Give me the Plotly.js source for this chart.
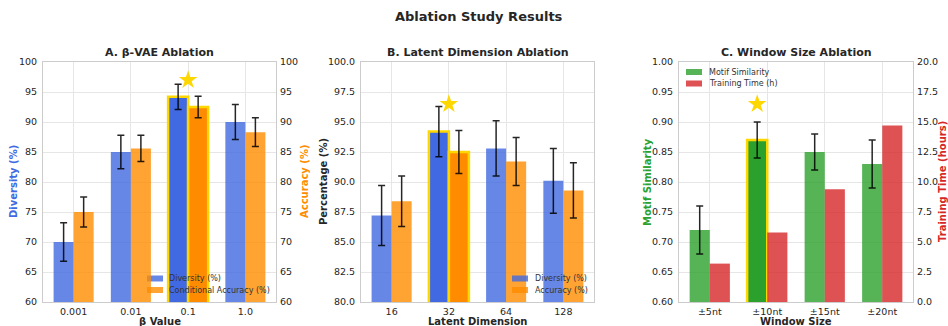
<!DOCTYPE html>
<html>
<head>
<meta charset="utf-8">
<script src="https://cdn.plot.ly/plotly-3.0.1.min.js"></script>
<style>html,body{margin:0;padding:0;background:#fff;}#chart{width:948px;height:326px;}</style>
</head>
<body>
<div id="chart"></div>
<script>
// ---------- DATA ----------
const betaCats = ['0.001', '0.01', '0.1', '1.0'];
const betaDiversity = [70.0, 85.0, 94.2, 90.0];
const betaDiversityErr = [3.2, 2.8, 2.1, 2.9];
const betaAccuracy = [75.0, 85.6, 92.5, 88.3];
const betaAccuracyErr = [2.5, 2.2, 1.8, 2.4];

const latentCats = ['16', '32', '64', '128'];
const latentDiversity = [87.2, 94.2, 92.8, 90.1];
const latentDiversityErr = [2.5, 2.1, 2.3, 2.7];
const latentAccuracy = [88.4, 92.5, 91.7, 89.3];
const latentAccuracyErr = [2.1, 1.8, 2.0, 2.3];

const windowCats = ['±5nt', '±10nt', '±15nt', '±20nt'];
const motifSimilarity = [0.72, 0.87, 0.85, 0.83];
const motifSimilarityErr = [0.04, 0.03, 0.03, 0.04];
const trainingHours = [3.2, 5.8, 9.4, 14.7];

const bestIndex = [2, 1, 1];          // highlighted group per panel
const starValue = [97.0, 96.5, 0.93]; // star marker heights per panel

const legendA = ['Diversity (%)', 'Conditional Accuracy (%)'];
const legendB = ['Diversity (%)', 'Accuracy (%)'];
const legendC = ['Motif Similarity', 'Training Time (h)'];

// ---------- STYLE ----------
const BLUE = '65,105,225', ORANGE = '255,140,0', GREEN = '44,160,44', RED = '214,39,40';
const GOLD = '#FFD700';
const W = 948, H = 326;
const FONT = 'DejaVu Sans, Arial, sans-serif';
const TXT = '#262626';
const BW = 0.35;

function idx(arr) { return arr.map((_, i) => i); }
function perBar(cats, best, a, b) { return cats.map((_, i) => i === best ? a : b); }
function err(arr) { return {type: 'data', array: arr, visible: true, color: 'rgba(0,0,0,0.85)', thickness: 1.5, width: 3.5}; }

function barTrace(cats, vals, errs, rgb, best, offset, name, xa, ya, highlight) {
  const hb = highlight ? best : -1;
  const t = {
    type: 'bar', x: idx(cats), y: vals, width: BW, offset: offset, name: name,
    xaxis: xa, yaxis: ya, showlegend: false,
    marker: {
      color: perBar(cats, hb, 'rgb(' + rgb + ')', 'rgba(' + rgb + ',0.8)'),
      line: {color: perBar(cats, hb, GOLD, 'rgba(0,0,0,0)'), width: perBar(cats, hb, 2.5, 0)}
    },
    hoverinfo: 'skip'
  };
  if (errs) t.error_y = err(errs);
  return t;
}
function star(xv, yv, xa, ya) {
  return {type: 'scatter', mode: 'markers', x: [xv], y: [yv], xaxis: xa, yaxis: ya, showlegend: false,
          marker: {symbol: 'star', size: 14, color: GOLD, line: {width: 0}}, hoverinfo: 'skip'};
}

const traces = [
  barTrace(betaCats, betaDiversity, betaDiversityErr, BLUE, bestIndex[0], -BW, legendA[0], 'x', 'y', true),
  barTrace(betaCats, betaAccuracy, betaAccuracyErr, ORANGE, bestIndex[0], 0, legendA[1], 'x', 'y2', true),
  star(bestIndex[0], starValue[0], 'x', 'y2'),

  barTrace(latentCats, latentDiversity, latentDiversityErr, BLUE, bestIndex[1], -BW, legendB[0], 'x2', 'y3', true),
  barTrace(latentCats, latentAccuracy, latentAccuracyErr, ORANGE, bestIndex[1], 0, legendB[1], 'x2', 'y3', true),
  star(bestIndex[1], starValue[1], 'x2', 'y3'),

  barTrace(windowCats, motifSimilarity, motifSimilarityErr, GREEN, bestIndex[2], -BW, legendC[0], 'x3', 'y4', true),
  barTrace(windowCats, trainingHours, null, RED, bestIndex[2], 0, legendC[1], 'x3', 'y5', false),
  star(bestIndex[2] - BW / 2, starValue[2], 'x3', 'y4')
];

// ---------- LAYOUT ----------
const plotTop = 62, plotBottom = 302;
const yDom = [1 - plotBottom / H, 1 - plotTop / H];
const xDomA = [43 / W, 276 / W], xDomB = [361 / W, 594 / W], xDomC = [679 / W, 913 / W];
const px = v => v / W, py = v => 1 - v / H;

function xAxis(dom, cats, anchor) {
  return {
    domain: dom, anchor: anchor, range: [-0.535, cats.length - 1 + 0.535],
    tickmode: 'array', tickvals: idx(cats), ticktext: cats,
    showgrid: true, gridcolor: '#e6e6e6', gridwidth: 1, zeroline: false,
    showline: true, linecolor: '#cccccc', linewidth: 1, mirror: true, ticks: '',
    ticklabelstandoff: 1,
    tickfont: {family: FONT, size: 9.5, color: TXT}
  };
}
function yAxis(range, dtick, fmt, anchor, extra) {
  return Object.assign({
    domain: yDom, anchor: anchor, range: range, dtick: dtick, tick0: range[0], tickformat: fmt,
    showgrid: true, gridcolor: '#e6e6e6', gridwidth: 1, zeroline: false,
    showline: true, linecolor: '#cccccc', linewidth: 1, mirror: true, ticks: '',
    ticklabelstandoff: 3,
    tickfont: {family: FONT, size: 9.5, color: TXT}
  }, extra || {});
}
function ann(text, x, y, size, color, angle) {
  return {text: text, xref: 'paper', yref: 'paper', x: px(x), y: py(y), xanchor: 'center', yanchor: 'middle',
          textangle: angle || 0, showarrow: false, font: {family: FONT, size: size, color: color, weight: 'bold'}};
}

// custom legends (patches + labels, no frame)
const shapes = [], legendAnns = [];
function customLegend(patchX, rowsY, textX, labels, rgbs, layer) {
  labels.forEach((lab, i) => {
    shapes.push({type: 'rect', xref: 'paper', yref: 'paper', layer: layer,
                 x0: px(patchX), x1: px(patchX + 16), y0: py(rowsY[i] + 3), y1: py(rowsY[i] - 3),
                 fillcolor: 'rgba(' + rgbs[i] + ',0.8)', line: {width: 0}});
    legendAnns.push({text: lab, xref: 'paper', yref: 'paper', x: px(textX), y: py(rowsY[i]), xanchor: 'left', yanchor: 'middle',
                     showarrow: false, font: {family: FONT, size: 8, color: '#333'}});
  });
}
customLegend(147, [278.5, 290], 167, legendA, [BLUE, ORANGE], 'between');
customLegend(512, [278.5, 290], 533, legendB, [BLUE, ORANGE], 'above');
customLegend(686, [72, 83.5], 707, legendC, [GREEN, RED], 'above');

const layout = {
  width: W, height: H, margin: {l: 0, r: 0, t: 0, b: 0},
  paper_bgcolor: '#fff', plot_bgcolor: '#fff',
  barmode: 'overlay', showlegend: false,
  font: {family: FONT, color: TXT},
  xaxis: xAxis(xDomA, betaCats, 'y'),
  yaxis: yAxis([60, 100], 5, 'd', 'x'),
  yaxis2: yAxis([60, 100], 5, 'd', 'x', {overlaying: 'y', side: 'right', showgrid: false, showline: false}),
  xaxis2: xAxis(xDomB, latentCats, 'y3'),
  yaxis3: yAxis([80, 100], 2.5, '.1f', 'x2'),
  xaxis3: xAxis(xDomC, windowCats, 'y4'),
  yaxis4: yAxis([0.6, 1.0], 0.05, '.2f', 'x3'),
  yaxis5: yAxis([0, 20], 2.5, '.1f', 'x3', {overlaying: 'y4', side: 'right', showgrid: false, showline: false}),
  shapes: shapes,
  annotations: [
    ann('Ablation Study Results', 479, 16, 13, TXT),
    ann('A. β-VAE Ablation', 159.5, 53, 11, TXT),
    ann('B. Latent Dimension Ablation', 477.5, 53, 11, TXT),
    ann('C. Window Size Ablation', 796, 53, 11, TXT),
    ann('β Value', 159.5, 321, 10, TXT),
    ann('Latent Dimension', 477.5, 321, 10, TXT),
    ann('Window Size', 796, 321, 10, TXT),
    ann('Diversity (%)', 13, 182, 10, 'rgb(' + BLUE + ')', -90),
    ann('Accuracy (%)', 304, 182, 10, 'rgb(' + ORANGE + ')', -90),
    ann('Percentage (%)', 323, 182, 10, TXT, -90),
    ann('Motif Similarity', 647, 182, 10, 'rgb(' + GREEN + ')', -90),
    ann('Training Time (hours)', 942, 182, 10, 'rgb(' + RED + ')', -90)
  ].concat(legendAnns)
};

Plotly.newPlot('chart', traces, layout, {displayModeBar: false, staticPlot: true});
</script>
</body>
</html>
